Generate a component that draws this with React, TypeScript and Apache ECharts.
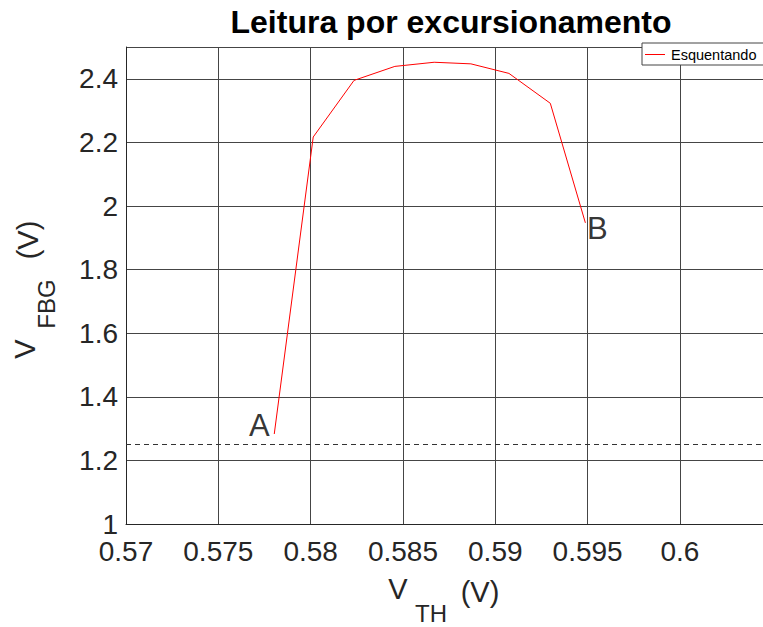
import React, { useEffect, useRef } from 'react';
import * as echarts from 'echarts';

const FONT = '"Liberation Sans", Arial, Helvetica, sans-serif';

// V_TH (V)
const vth = [0.57803, 0.58014, 0.58235, 0.58456, 0.58669, 0.58868, 0.59074, 0.59298, 0.59488];
// V_FBG (V)
const vfbg = [1.283, 2.217, 2.395, 2.439, 2.452, 2.447, 2.417, 2.323, 1.947];
// point annotations
const pointNames = ['A', '', '', '', '', '', '', '', 'B'];
const thresholdLevel = 1.25;

const seriesName = 'Esquentando';
const titleText = 'Leitura por excursionamento';

const xMin = 0.57;
const xMax = 0.6045;
const xStep = 0.005;
const yMin = 1;
const yMax = 2.5;
const yStep = 0.2;

function fmt(step: number) {
  return (v: number) => {
    const r = v / step;
    if (Math.abs(r - Math.round(r)) > 1e-6) return '';
    return String(parseFloat(v.toFixed(4)));
  };
}

export default function App() {
  const ref = useRef<HTMLDivElement>(null);
  useEffect(() => {
    if (!ref.current) return;
    const chart = echarts.init(ref.current, null, { renderer: 'svg' });
    const lineData = vth.map((x, i) => [x, vfbg[i]]);
    const labelData = vth
      .map((x, i) => ({ x, y: vfbg[i], n: pointNames[i] }))
      .filter((d) => d.n !== '')
      .map((d) => ({
        value: [d.x, d.y],
        name: d.n,
        label: d.n === 'A'
          ? { position: 'left', distance: 4, offset: [0, -9] }
          : { position: 'right', distance: 1, offset: [0, 6] },
      }));

    chart.setOption({
      animation: false,
      backgroundColor: '#ffffff',
      title: {
        text: titleText,
        left: 446,
        top: 1,
        textAlign: 'center',
        textStyle: { fontFamily: FONT, fontSize: 32, fontWeight: 'bold', color: '#000' },
      },
      legend: {
        data: [{ name: seriesName, icon: 'rect' }],
        left: 642,
        top: 43,
        padding: [4, 12, 3, 3],
        itemWidth: 20,
        itemHeight: 1,
        itemGap: 5,
        backgroundColor: '#ffffff',
        borderColor: '#444',
        borderWidth: 1,
        borderRadius: 0,
        textStyle: { fontFamily: FONT, fontSize: 14.5, color: '#000', padding: [0, 0, 0, 1] },
      },
      grid: { left: 126, right: 0, top: 47, bottom: 103, containLabel: false },
      xAxis: {
        type: 'value',
        min: xMin,
        max: xMax,
        interval: xStep,
        axisLine: { show: true, onZero: false, lineStyle: { color: '#262626', width: 1 } },
        axisTick: { show: false },
        axisLabel: {
          formatter: fmt(xStep),
          showMaxLabel: false,
          margin: 13,
          fontFamily: FONT,
          fontSize: 28,
          color: '#262626',
        },
        splitLine: { show: true, lineStyle: { color: '#454545', width: 1 } },
      },
      yAxis: {
        type: 'value',
        min: yMin,
        max: yMax,
        interval: yStep,
        axisLine: { show: true, onZero: false, lineStyle: { color: '#262626', width: 1 } },
        axisTick: { show: false },
        axisLabel: {
          formatter: fmt(yStep),
          showMaxLabel: false,
          margin: 8,
          fontFamily: FONT,
          fontSize: 28,
          color: '#262626',
          padding: [6, 0, 0, 0],
        },
        splitLine: { show: true, lineStyle: { color: '#454545', width: 1 } },
      },
      series: [
        {
          name: seriesName,
          type: 'line',
          data: lineData,
          symbol: 'none',
          lineStyle: { color: '#ff0000', width: 1 },
          itemStyle: { color: '#ff0000' },
          markLine: {
            silent: true,
            symbol: ['none', 'none'],
            label: { show: false },
            lineStyle: { color: '#333333', width: 1, type: [5, 4] },
            data: [{ yAxis: thresholdLevel }],
          },
        },
        {
          name: 'labels',
          type: 'scatter',
          data: labelData,
          symbol: 'circle',
          symbolSize: 1,
          itemStyle: { color: 'rgba(0,0,0,0)' },
          label: {
            show: true,
            formatter: (p: any) => p.name,
            fontFamily: FONT,
            fontSize: 31,
            color: '#000',
          },
          silent: true,
        },
      ],
      graphic: [
        { type: 'text', x: 398, y: 589, style: { text: 'V', font: `29px ${FONT}`, fill: '#262626', align: 'center', verticalAlign: 'middle' } },
        { type: 'text', x: 431, y: 613, style: { text: 'TH', font: `24px ${FONT}`, fill: '#262626', align: 'center', verticalAlign: 'middle' } },
        { type: 'text', x: 480, y: 592, style: { text: '(V)', font: `29px ${FONT}`, fill: '#262626', align: 'center', verticalAlign: 'middle' } },
        { type: 'text', x: 25, y: 349, rotation: Math.PI / 2, style: { text: 'V', font: `29px ${FONT}`, fill: '#262626', align: 'center', verticalAlign: 'middle' } },
        { type: 'text', x: 46, y: 304, rotation: Math.PI / 2, style: { text: 'FBG', font: `24px ${FONT}`, fill: '#262626', align: 'center', verticalAlign: 'middle' } },
        { type: 'text', x: 28, y: 240, rotation: Math.PI / 2, style: { text: '(V)', font: `29px ${FONT}`, fill: '#262626', align: 'center', verticalAlign: 'middle' } },
      ],
    });
    return () => chart.dispose();
  }, []);
  return (
    <div
      ref={ref}
      style={{ position: 'absolute', left: 0, top: 0, width: 763, height: 627, background: '#fff' }}
    />
  );
}
